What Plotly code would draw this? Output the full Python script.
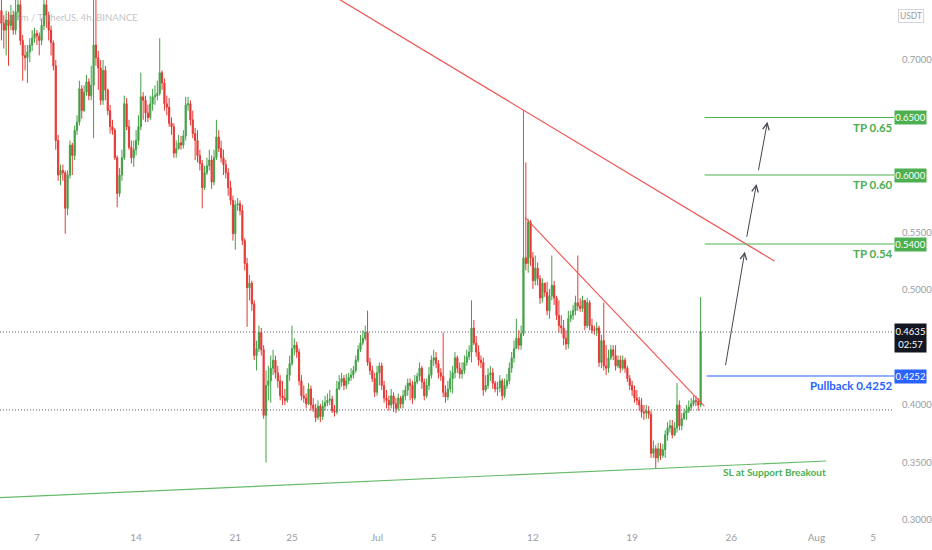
import pandas as pd
import plotly.graph_objects as go

# ---------------- data ----------------
first_open = 0.743
close = [
    .732, .726, .735, .730, .739, .726, .742, .748, .717, .704, .702, .707, .713, .719, .723, .721,
    .717, .730, .748, .739, .726, .715, .695, .630, .600, .604, .602, .571, .600, .626, .617, .639,
    .646, .675, .656, .672, .681, .669, .678, .713, .702, .693, .665, .691, .674, .656, .642, .639,
    .615, .584, .600, .615, .662, .642, .624, .615, .622, .630, .642, .668, .665, .654, .650, .662,
    .668, .669, .671, .689, .680, .662, .659, .645, .642, .619, .623, .628, .626, .634, .661, .662,
    .648, .636, .630, .617, .610, .589, .602, .608, .613, .594, .615, .633, .623, .615, .609, .602,
    .589, .578, .549, .574, .575, .569, .543, .523, .502, .506, .488, .443, .449, .463, .448, .391,
    .417, .421, .432, .439, .428, .421, .408, .406, .404, .426, .436, .449, .452, .446, .421, .408,
    .406, .401, .414, .400, .397, .389, .399, .390, .399, .402, .404, .405, .395, .394, .414, .420,
    .423, .417, .421, .424, .426, .430, .439, .448, .454, .458, .463, .437, .430, .423, .411, .428,
    .434, .417, .406, .404, .400, .408, .401, .397, .406, .401, .408, .413, .419, .417, .406, .420,
    .425, .432, .420, .408, .417, .426, .439, .441, .436, .428, .425, .411, .407, .414, .423, .428,
    .441, .432, .427, .430, .437, .442, .446, .467, .454, .446, .439, .437, .413, .417, .426, .428,
    .419, .414, .415, .421, .408, .417, .421, .432, .441, .449, .458, .452, .462, .528, .523, .559,
    .528, .508, .519, .510, .493, .506, .498, .482, .495, .504, .493, .478, .469, .467, .458, .453,
    .475, .478, .482, .489, .486, .484, .491, .469, .489, .469, .465, .465, .467, .437, .456, .434,
    .432, .441, .448, .443, .434, .439, .432, .439, .432, .423, .417, .413, .406, .404, .400, .394,
    .393, .395, .392, .358, .362, .354, .362, .356, .361, .374, .380, .382, .374, .380, .400, .382,
    .388, .393, .395, .398, .401, .404, .403, .400, .4635,
]
high = [
    .755, .739, .743, .742, .748, .743, .757, .761, .752, .722, .713, .713, .719, .726, .728, .726,
    .724, .736, .756, .752, .742, .730, .717, .700, .635, .609, .609, .604, .604, .630, .628, .643,
    .652, .682, .678, .678, .687, .684, .695, .760, .755, .708, .700, .700, .695, .675, .661, .648,
    .641, .617, .606, .622, .669, .667, .648, .630, .630, .639, .652, .689, .672, .669, .661, .669,
    .675, .678, .682, .719, .691, .684, .669, .667, .650, .645, .630, .635, .634, .639, .668, .668,
    .665, .656, .641, .639, .622, .613, .608, .615, .622, .617, .622, .648, .639, .630, .622, .613,
    .606, .595, .582, .578, .580, .578, .574, .545, .528, .513, .508, .491, .456, .469, .467, .452,
    .430, .434, .443, .448, .443, .434, .426, .421, .414, .432, .443, .469, .458, .455, .449, .426,
    .417, .410, .419, .417, .406, .401, .404, .401, .404, .408, .410, .413, .408, .400, .421, .426,
    .428, .426, .427, .428, .432, .434, .443, .452, .461, .465, .469, .482, .441, .434, .428, .434,
    .437, .437, .421, .413, .408, .414, .411, .406, .410, .408, .413, .417, .423, .423, .421, .426,
    .428, .437, .434, .423, .423, .433, .443, .448, .446, .439, .432, .463, .417, .421, .430, .434,
    .446, .443, .437, .437, .443, .448, .452, .491, .474, .460, .452, .443, .441, .426, .432, .434,
    .432, .421, .420, .426, .423, .423, .427, .437, .446, .456, .475, .465, .469, .656, .611, .562,
    .561, .533, .530, .524, .513, .510, .506, .507, .501, .530, .508, .495, .491, .478, .474, .465,
    .482, .482, .487, .495, .530, .493, .495, .487, .493, .491, .475, .469, .472, .469, .461, .489,
    .452, .448, .452, .452, .452, .443, .443, .443, .441, .434, .426, .421, .417, .413, .407, .406,
    .400, .400, .399, .395, .369, .365, .367, .367, .366, .378, .385, .387, .387, .385, .419, .404,
    .393, .397, .400, .404, .406, .408, .408, .406, .494,
]
low = [
    .717, .710, .704, .695, .726, .722, .722, .735, .713, .682, .691, .680, .698, .708, .715, .713,
    .704, .713, .726, .728, .717, .704, .691, .622, .595, .591, .595, .549, .565, .597, .600, .613,
    .635, .643, .649, .655, .669, .665, .665, .632, .695, .674, .661, .661, .665, .652, .636, .635,
    .613, .572, .581, .595, .613, .639, .622, .610, .607, .617, .626, .639, .648, .646, .646, .648,
    .656, .661, .665, .669, .674, .656, .652, .642, .635, .615, .615, .622, .622, .623, .630, .656,
    .643, .632, .613, .611, .604, .571, .587, .600, .604, .588, .591, .613, .620, .611, .600, .597,
    .582, .574, .543, .535, .569, .565, .539, .517, .468, .491, .482, .439, .430, .446, .443, .388,
    .350, .404, .402, .426, .423, .415, .404, .400, .400, .402, .421, .434, .443, .441, .417, .404,
    .402, .397, .400, .395, .394, .385, .387, .385, .387, .395, .399, .400, .393, .390, .392, .413,
    .416, .413, .414, .418, .421, .423, .428, .437, .446, .452, .456, .434, .426, .420, .407, .408,
    .417, .413, .402, .397, .395, .397, .394, .393, .395, .397, .397, .404, .408, .404, .401, .404,
    .418, .421, .414, .404, .406, .413, .423, .434, .432, .423, .421, .407, .402, .404, .411, .410,
    .423, .428, .423, .423, .427, .434, .439, .437, .452, .442, .434, .432, .408, .411, .414, .421,
    .414, .411, .408, .411, .404, .406, .414, .418, .428, .437, .449, .448, .448, .460, .517, .515,
    .521, .501, .504, .504, .488, .489, .494, .478, .475, .491, .487, .474, .463, .462, .452, .448,
    .449, .472, .474, .478, .482, .481, .481, .465, .467, .465, .462, .461, .460, .433, .432, .430,
    .426, .428, .439, .439, .430, .432, .428, .430, .428, .420, .413, .408, .402, .400, .395, .389,
    .387, .388, .388, .354, .354, .345, .350, .352, .354, .354, .369, .376, .371, .373, .376, .378,
    .378, .387, .387, .393, .395, .399, .399, .395, .398,
]
candle_start = "2021-06-04 12:00"

x_range = ["2021-06-04 09:33", "2021-08-06 11:28"]
y_range = [0.2965, 0.7522]
# price labels hidden in the reference behind the level boxes (0.45, 0.60, 0.65) are left out
price_ticks = [0.30, 0.35, 0.40, 0.50, 0.55, 0.70, 0.75]
date_ticks = ["2021-06-07", "2021-06-14", "2021-06-21", "2021-06-25", "2021-07-01", "2021-07-05",
              "2021-07-12", "2021-07-19", "2021-07-26", "2021-08-01", "2021-08-05"]
date_labels = ["7", "14", "21", "25", "Jul", "5", "12", "19", "26", "Aug", "5"]

resistance_x = ["2021-06-28 09:00", "2021-07-29 01:00"]
resistance_y = [0.7525, 0.5252]
local_trend_x = ["2021-07-11 10:30", "2021-07-24 02:18"]
local_trend_y = [0.5632, 0.3991]
support_x = ["2021-06-04 00:00", "2021-08-01 16:42"]
support_y = [0.3192, 0.3513]

tp_levels = [0.65, 0.60, 0.54]
tp_labels = ["TP 0.65", "TP 0.60", "TP 0.54"]
tp_start = "2021-07-24 02:49"
pullback_level = 0.4252
pullback_start = "2021-07-24 06:10"
line_end = "2021-08-08 00:00"
last_price = 0.4635
countdown = "02:57"
low_level = 0.3957

arrow_tail_x = ["2021-07-25 13:45", "2021-07-27 01:41", "2021-07-27 21:26"]
arrow_tail_y = [0.4333, 0.5450, 0.6029]
arrow_head_x = ["2021-07-26 22:50", "2021-07-27 18:35", "2021-07-28 13:08"]
arrow_head_y = [0.5333, 0.5922, 0.6463]

sl_label_x = "2021-08-01 13:19"
sl_label_y = 0.3417

# ---------------- figure ----------------
GREEN = "#4caf50"
RED = "#ef5350"
BLUE = "#2962ff"
GREY = "#9a9ca3"
FONT = "Lato, Liberation Sans, Arial, sans-serif"

times = pd.date_range(candle_start, periods=len(close), freq="4h")
open_ = [first_open] + close[:-1]

fig = go.Figure()
fig.add_trace(go.Candlestick(
    x=times, open=open_, high=high, low=low, close=close,
    increasing=dict(line=dict(color="#43a047", width=1), fillcolor="#43a047"),
    decreasing=dict(line=dict(color="#e53935", width=1), fillcolor="#e53935"),
    whiskerwidth=0, hoverinfo="skip", showlegend=False,
))

def hline(x, y, color, width=1, dash="solid"):
    fig.add_trace(go.Scatter(x=x, y=y, mode="lines", hoverinfo="skip", showlegend=False,
                             line=dict(color=color, width=width, dash=dash)))

# dotted price lines
hline([x_range[0], line_end], [last_price, last_price], "#5d606b", 1, "1px,2px")
hline([x_range[0], line_end], [low_level, low_level], "#5d606b", 1, "1px,2px")
# trendlines
hline(resistance_x, resistance_y, RED, 1.1)
hline(local_trend_x, local_trend_y, RED, 1.1)
hline(support_x, support_y, "#66bb6a", 1.2)
# targets
hline([pullback_start, line_end], [pullback_level, pullback_level], BLUE, 1.2)
for lvl in tp_levels[::-1]:
    hline([tp_start, line_end], [lvl, lvl], GREEN, 1.2)

annotations = []
for tx, ty, hx, hy in zip(arrow_tail_x, arrow_tail_y, arrow_head_x, arrow_head_y):
    annotations.append(dict(x=hx, y=hy, ax=tx, ay=ty, xref="x", yref="y", axref="x", ayref="y",
                            text="", showarrow=True, arrowhead=5, arrowsize=1.3, arrowwidth=1,
                            arrowcolor="#434651"))

box_font = dict(family=FONT, size=9.5, color="white")
for lvl, lab in zip(tp_levels, tp_labels):
    annotations.append(dict(x=892 / 897, xref="paper", y=lvl, yref="y", text="<b>%s</b>" % lab,
                            xanchor="right", yanchor="middle", yshift=-9.5, xshift=6, showarrow=False,
                            font=dict(family=FONT, size=11.5, color=GREEN)))
    annotations.append(dict(x=1, xref="paper", y=lvl, yref="y", text="%.4f" % lvl,
                            xanchor="left", yanchor="middle", showarrow=False, bgcolor=GREEN,
                            width=31, height=13, borderpad=0, align="center", font=box_font))

annotations.append(dict(x=892 / 897, xref="paper", y=pullback_level, yref="y",
                        text="<b>Pullback %.4f</b>" % pullback_level, xanchor="right", yanchor="middle",
                        yshift=-9.5, xshift=6, showarrow=False,
                        font=dict(family=FONT, size=11.5, color=BLUE)))
annotations.append(dict(x=1, xref="paper", y=pullback_level, yref="y", text="%.4f" % pullback_level,
                        xanchor="left", yanchor="middle", showarrow=False, bgcolor=BLUE,
                        width=31, height=13, borderpad=0, align="center", font=box_font))
annotations.append(dict(x=1, xref="paper", y=last_price, yref="y",
                        text="%.4f<br>%s" % (last_price, countdown),
                        xanchor="left", yanchor="top", yshift=9, showarrow=False, bgcolor="#131722",
                        width=31, height=28, borderpad=0, align="center", font=box_font))
annotations.append(dict(x=sl_label_x, xref="x", y=sl_label_y, yref="y",
                        text="<b>SL at Support Breakout</b>", xanchor="right", yanchor="middle",
                        xshift=4, showarrow=False, font=dict(family=FONT, size=10, color=GREEN)))
annotations.append(dict(x=1 + 17 / 897, xref="paper", y=1 - 16 / 524, yref="paper", text="USDT",
                        xanchor="center", yanchor="middle", showarrow=False, bgcolor="white",
                        bordercolor="#d1d4dc", borderwidth=1, borderpad=1,
                        font=dict(family=FONT, size=8.5, color=GREY)))
annotations.append(dict(x=3 / 897, xref="paper", y=1 - 17 / 524, yref="paper",
                        text="Beam / TetherUS, 4h, BINANCE", xanchor="left", yanchor="middle",
                        showarrow=False, font=dict(family=FONT, size=9.5, color="rgba(150,152,160,0.6)")))

fig.update_layout(
    width=932, height=550,
    margin=dict(l=0, r=35, t=0, b=26),
    paper_bgcolor="white", plot_bgcolor="white",
    font=dict(family=FONT, size=10, color=GREY),
    annotations=annotations,
    showlegend=False,
    xaxis=dict(type="date", range=x_range, rangeslider=dict(visible=False), showgrid=False,
               zeroline=False, showline=False, ticks="", tickvals=date_ticks, ticktext=date_labels,
               tickfont=dict(family=FONT, size=10, color=GREY), ticklabelstandoff=6, fixedrange=True),
    yaxis=dict(range=y_range, side="right", showgrid=False, zeroline=False, showline=False,
               ticks="", tickvals=price_ticks, ticktext=["%.4f" % v for v in price_ticks],
               tickfont=dict(family=FONT, size=9.5, color=GREY), ticklabelstandoff=7, fixedrange=True),
)

fig.write_html("out.html", config=dict(displayModeBar=False),
               post_script="document.body.style.margin='0';document.body.style.overflow='hidden';")
